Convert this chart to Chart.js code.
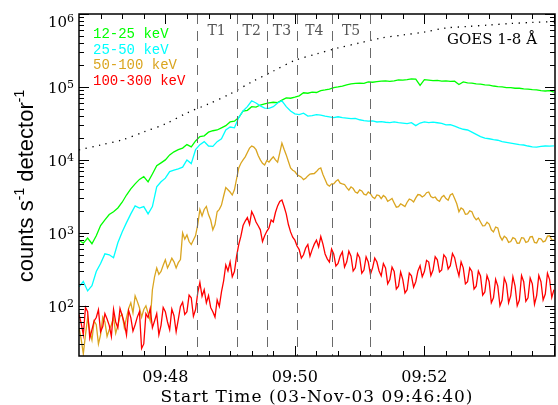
<!DOCTYPE html>
<html>
<head>
<meta charset="utf-8">
<script src="https://cdn.jsdelivr.net/npm/chart.js@4.4.0/dist/chart.umd.min.js"></script>
<style>
html,body{margin:0;padding:0;background:#fff;}
canvas{display:block;}
</style>
</head>
<body>
<canvas id="c" width="558" height="405"></canvas>
<script>
// ---- data (seconds after 03-Nov-03 09:46:40, counts s^-1 detector^-1) ----
const times = [0,4,8,12,16,20,24,28,32,36,40,44,48,52,56,60,64,68,72,76,80,84,88,92,96,100,104,108,112,116,120,124,128,132,136,140,144,148,152,156,160,164,168,172,176,180,184,188,192,196,200,204,208,212,216,220,224,228,232,236,240,244,248,252,256,260,264,268,272,276,280,284,288,292,296,300,304,308,312,316,320,324,328,332,336,340,344,348,352,356,360,364,368,372,376,380,384,388,392,396,400,404,408,412,416,420,424,428,432,436,440];

const fineTimes = [0,2,4,6,8,10,12,14,16,18,20,22,24,26,28,30,32,34,36,38,40,42,44,46,48,50,52,54,56,58,60,62,64,66,68,70,72,74,76,78,80,82,84,86,88,90,92,94,96,98,100,102,104,106,108,110,112,114,116,118,120,122,124,126,128,130,132,134,136,138,140,142,144,146,148,150,152,154,156,158,160,162,164,166,168,170,172,174,176,178,180,182,184,186,188,190,192,194,196,198,200,202,204,206,208,210,212,214,216,218,220,222,224,226,228,230,232,234,236,238,240,242,244,246,248,250,252,254,256,258,260,262,264,266,268,270,272,274,276,278,280,282,284,286,288,290,292,294,296,298,300,302,304,306,308,310,312,314,316,318,320,322,324,326,328,330,332,334,336,338,340,342,344,346,348,350,352,354,356,358,360,362,364,366,368,370,372,374,376,378,380,382,384,386,388,390,392,394,396,398,400,402,404,406,408,410,412,414,416,418,420,422,424,426,428,430,432,434,436,438,440];

const band12_25 = [790,720,850,710,910,1260,1510,1780,1950,2190, 2630,3300,4000,4700,5400,5900,5000,6400,8300,9100, 10000,11700,12900,13800,14500,16200,15100,18200,20900,21400, 24000,25100,25700,27500,29500,33100,33900,38000,46800,47900, 53700,53000,56500,58500,60300,61700,61000,66000,70800,70000, 72400,75500,83200,82000,85100,84000,89100,91000,93300,97700, 100000,103000,107000,110000,112000,113000,112000,117000,116000,118000, 120000,121000,119000,121000,125000,124000,126000,129000,128000,105000, 126000,124000,122000,123000,120000,121000,119000,120000,108000,117000, 114000,113000,110000,109000,107000,106000,103000,101000,100000,98000, 97700,96000,96000,94000,93300,92000,91000,89000,88000,89000,85000];

const band25_50 = [182,215,160,188,295,380,515,500,455,730, 1030,1380,1820,2340,2190,2290,1820,2290,4270,5010, 5620,6920,7240,7550,7940,10000,8900,13800,16200,17800, 15500,15300,17800,19500,25700,28200,27500,38000,46800,53700, 64600,60300,55000,51300,51000,53700,60300,64600,53700,46800, 42700,41700,43700,39800,40500,41700,41000,39800,38900,38000, 39000,38000,37500,36800,37000,35500,34500,33900,34200,33100, 33500,32800,32400,33100,32400,32000,31500,32400,29500,32000, 33100,32400,33000,32300,31600,30200,30500,29000,27500,26300, 25700,24000,22400,20900,19900,19500,19000,18600,17800,17400, 17000,16600,16200,16000,15500,15100,15000,15300,15500,15400,15600];

const band50_100 = [50,35,22,40,69,45,34,62,55,30,40,70,60,38,47,55,69,42,54,72,
  76,50,69,92,110,80,137,115,94,70,89,100,79,62,166,250,330,270,295,360,
  427,330,380,450,400,330,390,430,1000,820,935,760,692,800,915,1300,2090,1700,2090,2300,
  1780,1500,1100,1300,1950,2100,2400,3200,4170,3900,3630,3300,3890,5500,7760,9000,10000,11000,12600,14500,
  15500,15000,13800,11500,10000,9000,8510,9800,9330,10200,11000,10000,9330,12500,17000,14000,11700,9500,7760,7200,
  6920,6300,6030,5800,5370,5600,6030,6400,6460,6500,6920,7500,7760,6300,5370,4600,4370,4700,4680,5100,
  5370,4800,4680,4600,4170,3850,4270,4050,3630,3500,3890,3750,3390,3300,3630,3450,3090,2950,3310,3250,
  2950,3250,3090,2700,2820,2950,2570,2250,2290,2500,2400,2300,2630,2900,2820,2650,3020,3350,3310,3100,
  3240,3550,3630,3150,3020,3100,2820,2700,3090,3250,2950,2800,3310,3450,2950,2500,1950,2200,2090,1800,
  1820,2000,1950,1650,1510,1600,1410,1250,1260,1400,1320,1100,1030,1200,1170,900,794,900,850,740,
  760,860,830,720,725,860,850,740,760,880,890,740,725,840,830,750,775,900,910,800,
  794];

const band100_300 = [76,58,40,95,83,36,47,62,69,88,44,52,78,66,54,38,89,60,50,92,
  73,58,40,86,69,45,55,70,83,26,30,78,69,92,50,62,78,40,54,95,
  83,60,47,90,73,44,65,98,112,76,83,140,129,72,89,150,209,135,166,110,
  138,95,83,70,120,98,155,220,363,300,398,250,295,480,692,900,1260,1450,1620,1300,
  1950,1700,1410,1250,1100,760,912,1050,1170,1500,1410,1900,2340,2700,2820,2300,1820,1300,1030,870,
  794,660,589,450,500,620,692,480,589,700,794,640,891,700,513,440,398,600,513,350,
  380,480,550,340,398,560,479,300,331,520,457,280,309,470,398,270,331,450,398,300,
  257,380,331,200,229,340,295,170,186,290,229,150,166,280,257,180,214,300,355,250,
  295,420,398,260,309,470,427,290,309,500,457,320,355,520,457,330,257,400,331,200,
  214,330,295,170,186,300,257,140,155,260,214,110,129,230,186,100,120,240,200,110,
  138,250,186,100,120,260,214,115,129,240,200,105,138,260,214,120,145,280,229,130,
  166];

const goesTimes = [0,20,40,60,80,100,120,140,160,180,200,220,240,260,280,300,320,340,360,380,400,420,440];
const goesFlux  = [13700,16000,18800,24200,31100,44000,58500,80200,117000,165000,231000,283000,342000,401000,469000,515000,566000,643000,674000,707000,741000,766000,789000];

const bandLabels = ["12-25 keV","25-50 keV","50-100 keV","100-300 keV"];
const bandColors = ["#00ff00","#00ffff","#daa520","#ff0000"];

const intervalEdges  = [109,146,174,202,234,270];
const intervalLabels = ["T1","T2","T3","T4","T5"];

const xTickSeconds = [80,200,320];
const xTickLabels  = ["09:48","09:50","09:52"];
const yTickValues  = [100,1000,10000,100000,1000000];
const yTickBase    = ["10","10","10","10","10"];
const yTickExp     = ["2","3","4","5","6"];

const xTitle = "Start Time (03-Nov-03 09:46:40)";
const goesLabel = "GOES 1-8 \u00C5";

// ---- build datasets ----
function pts(ts, vs){ return ts.map((t,i)=>({x:t,y:vs[i]})); }
const seriesTimes = [times, times, fineTimes, fineTimes];
const series = [band12_25, band25_50, band50_100, band100_300];
const widths = [1.3, 1.3, 1.3, 1.3];
const datasets = [];
for (let i = series.length - 1; i >= 0; i--) {
  datasets.push({label: bandLabels[i], data: pts(seriesTimes[i], series[i]), borderColor: bandColors[i],
    borderWidth: widths[i], pointRadius: 0, tension: 0, fill: false, clip: 0});
}
datasets.push({label: goesLabel, data: pts(goesTimes, goesFlux), borderColor: "#000",
  borderWidth: 1.3, borderDash: [1.3, 5.5], pointRadius: 0, tension: 0.3, fill: false, clip: 0});

const decor = {
  id: 'decor',
  afterDatasetsDraw(chart) {
    const ctx = chart.ctx, a = chart.chartArea, x = chart.scales.x, y = chart.scales.y;
    ctx.save();
    // interval dashed lines
    ctx.strokeStyle = '#6a6a6a'; ctx.lineWidth = 1; ctx.setLineDash([10, 7]);
    intervalEdges.forEach(t => {
      const px = Math.round(x.getPixelForValue(t)) + 0.5;
      ctx.beginPath(); ctx.moveTo(px, a.top); ctx.lineTo(px, a.bottom); ctx.stroke();
    });
    ctx.setLineDash([]);
    ctx.fillStyle = '#555'; ctx.font = '14px "DejaVu Serif"'; ctx.textAlign = 'center'; ctx.textBaseline = 'alphabetic';
    intervalLabels.forEach((lab, i) => {
      const px = x.getPixelForValue((intervalEdges[i] + intervalEdges[i + 1]) / 2);
      ctx.fillText(lab, px, a.top + 21);
    });
    // frame
    ctx.strokeStyle = '#000'; ctx.lineWidth = 1.5;
    ctx.strokeRect(a.left, a.top, a.right - a.left, a.bottom - a.top);
    ctx.lineWidth = 1;
    // x ticks (every 20 s, major every 2 min)
    ctx.beginPath();
    for (let t = 20; t < x.max; t += 20) {
      const px = Math.round(x.getPixelForValue(t)) + 0.5;
      const len = ((t - 80) % 120 === 0) ? 10 : 5;
      ctx.moveTo(px, a.bottom); ctx.lineTo(px, a.bottom - len);
      ctx.moveTo(px, a.top); ctx.lineTo(px, a.top + len);
    }
    // y ticks (log)
    for (let e = 1; e <= 6; e++) {
      for (let k = 1; k <= 9; k++) {
        const v = k * Math.pow(10, e);
        if (v < y.min || v > y.max) continue;
        const py = Math.round(y.getPixelForValue(v)) + 0.5;
        const len = k === 1 ? 10 : 5;
        ctx.moveTo(a.left, py); ctx.lineTo(a.left + len, py);
        ctx.moveTo(a.right, py); ctx.lineTo(a.right - len, py);
      }
    }
    ctx.stroke();
    // x tick labels
    ctx.fillStyle = '#000'; ctx.font = '16px "DejaVu Serif"'; ctx.textAlign = 'center';
    xTickSeconds.forEach((t, i) => ctx.fillText(xTickLabels[i], x.getPixelForValue(t), a.bottom + 26));
    // y tick labels with superscript
    yTickValues.forEach((v, i) => {
      const py = y.getPixelForValue(v);
      const base = Math.max(py + 6, a.top + 13);
      ctx.textAlign = 'right';
      ctx.font = '11px "DejaVu Serif"';
      const ew = ctx.measureText(yTickExp[i]).width;
      ctx.fillText(yTickExp[i], a.left - 5, base - 5);
      ctx.font = '15px "DejaVu Serif"';
      ctx.fillText(yTickBase[i], a.left - 5 - ew, base);
    });
    // x title
    ctx.font = '17px "DejaVu Serif"'; ctx.textAlign = 'center';
    try { ctx.letterSpacing = '1px'; } catch (e) {}
    ctx.fillText(xTitle, (a.left + a.right) / 2, 402);
    try { ctx.letterSpacing = '0px'; } catch (e) {}
    // y title (rotated, with superscripts)
    ctx.save();
    ctx.translate(33, (a.top + a.bottom) / 2 + 1);
    ctx.rotate(-Math.PI / 2);
    const parts = [["counts s", 0], ["-1", 1], [" detector", 0], ["-1", 1]];
    const fBig = '22px "Liberation Sans"', fSmall = '14px "Liberation Sans"';
    let total = 0;
    parts.forEach(p => { ctx.font = p[1] ? fSmall : fBig; total += ctx.measureText(p[0]).width; });
    let cx = -total / 2;
    ctx.textAlign = 'left';
    parts.forEach(p => {
      ctx.font = p[1] ? fSmall : fBig;
      ctx.fillText(p[0], cx, p[1] ? -9 : 0);
      cx += ctx.measureText(p[0]).width;
    });
    ctx.restore();
    // legend
    ctx.font = '14px "Liberation Mono"'; ctx.textAlign = 'left';
    const baselines = [38, 54, 69, 85];
    bandLabels.forEach((lab, i) => { ctx.fillStyle = bandColors[i]; ctx.fillText(lab, 93, baselines[i]); });
    // GOES label
    ctx.fillStyle = '#000'; ctx.font = '15px "DejaVu Serif"'; ctx.textAlign = 'right';
    ctx.fillText(goesLabel, 537, 44);
    ctx.restore();
  }
};

new Chart(document.getElementById('c'), {
  type: 'line',
  data: { datasets },
  options: {
    responsive: false, devicePixelRatio: 1, animation: false,
    layout: { padding: { top: 14, right: 3, bottom: 0, left: 0 } },
    plugins: { legend: { display: false }, tooltip: { enabled: false } },
    scales: {
      x: { type: 'linear', min: 0, max: 441, grid: { display: false, drawTicks: false }, border: { display: false },
           ticks: { display: false }, afterFit(s) { s.height = 49; } },
      y: { type: 'logarithmic', min: 20.5, max: 1000000, grid: { display: false, drawTicks: false }, border: { display: false },
           ticks: { display: false }, afterFit(s) { s.width = 79; } }
    }
  },
  plugins: [decor]
});
</script>
</body>
</html>
